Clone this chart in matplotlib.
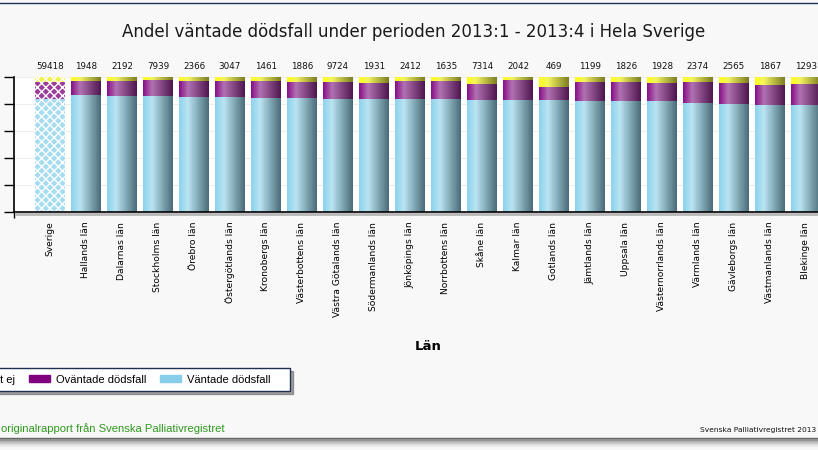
import matplotlib
matplotlib.use("Agg")
import matplotlib.pyplot as plt
from matplotlib.colors import to_rgb
from matplotlib.patches import Patch
import numpy as np

lan = ["Sverige", "Hallands län", "Dalarnas län", "Stockholms län", "Örebro län",
       "Östergötlands län", "Kronobergs län", "Västerbottens län", "Västra Götalands län",
       "Södermanlands län", "Jönköpings län", "Norrbottens län", "Skåne län", "Kalmar län",
       "Gotlands län", "Jämtlands län", "Uppsala län", "Västernorrlands län", "Värmlands län",
       "Gävleborgs län", "Västmanlands län", "Blekinge län"]
vantade = [83.5, 86.5, 86.2, 86.0, 85.0, 85.0, 84.5, 84.5, 83.7, 83.7, 83.5,
           83.7, 82.8, 83.0, 83.0, 82.3, 82.0, 82.0, 80.5, 79.8, 79.1, 79.1]
ovantade = [12.8, 10.6, 10.8, 11.8, 12.0, 12.0, 12.3, 11.8, 12.6, 11.9, 13.5,
            13.3, 12.0, 14.8, 9.6, 14.0, 14.3, 13.6, 15.8, 15.8, 15.0, 15.7]
vet_ej = [3.7, 2.9, 3.0, 2.2, 3.0, 3.0, 3.2, 3.7, 3.7, 4.4, 3.0,
          3.0, 5.2, 2.2, 7.4, 3.7, 3.7, 4.4, 3.7, 4.4, 5.9, 5.2]
antal = [59418, 1948, 2192, 7939, 2366, 3047, 1461, 1886, 9724, 1931, 2412,
         1635, 7314, 2042, 469, 1199, 1826, 1928, 2374, 2565, 1867, 1293]

BLUE = ("#8ed2ec", "#b9e4f2", "#4a6c78")
PURPLE = ("#880e88", "#b272b2", "#4e164e")
YELLOW = ("#ffff1a", "#f4f460", "#7c7c22")


def gradient(stops_c, n=64):
    t = np.linspace(0, 1, n)
    rgb = np.array([to_rgb(c) for c in stops_c])
    arr = np.stack([np.interp(t, [0, 0.3, 1], rgb[:, k]) for k in range(3)], axis=-1)
    return arr[None, :, :]


fig = plt.figure(figsize=(8.18, 4.5), dpi=100)
fig.patch.set_facecolor("#f8f8f8")

# plot area (cropped on both sides like the reference)
ax = fig.add_axes([14 / 818, 238 / 450, 828 / 818, 135 / 450])
ax.set_facecolor("white")

x = np.arange(len(lan))
w = 0.83
bottom2 = np.array(vantade) + np.array(ovantade)
b1 = ax.bar(x, vantade, w, color=BLUE[0], lw=0, zorder=2)
b2 = ax.bar(x, ovantade, w, bottom=vantade, color=PURPLE[0], lw=0, zorder=2)
b3 = ax.bar(x, vet_ej, w, bottom=bottom2, color=YELLOW[0], lw=0, zorder=2)

for cont, cols in ((b1, BLUE), (b2, PURPLE), (b3, YELLOW)):
    for i, p in enumerate(cont.patches):
        if i == 0:
            continue
        ax.imshow(gradient(cols), extent=[p.get_x(), p.get_x() + p.get_width(),
                                          p.get_y(), p.get_y() + p.get_height()],
                  aspect="auto", interpolation="bilinear", zorder=3)

# Sverige bar: lighter, with diamond pattern
plt.rcParams["hatch.linewidth"] = 1.2
for cont, col in ((b1, "#a6dcef"), (b2, "#9c3c9c"), (b3, "#f2f24a")):
    p = cont.patches[0]
    p.set_facecolor(col)
    p.set_edgecolor("white")
    p.set_hatch("xxxx")
    p.set_linewidth(0)

for i, n in enumerate(antal):
    ax.annotate(str(n), (x[i], 100), xytext=(0, 4), textcoords="offset points",
                ha="center", va="bottom", fontsize=6.3, color="#111111")

ax.set_xlim(-1, 22)
ax.set_ylim(0, 100)
ax.set_yticks(np.arange(0, 101, 20))
ax.set_yticklabels([])
ax.tick_params(axis="y", length=7, width=1, color="black")
ax.yaxis.grid(True, color="#eeeeee", lw=0.8, zorder=0)
ax.set_axisbelow(True)

ax.set_xticks(x)
ax.set_xticklabels(lan, rotation=90, fontsize=6.6, va="top")
ax.tick_params(axis="x", length=0, pad=7)
ax.set_xticks([-1, 4, 9, 14, 19], minor=True)
ax.tick_params(axis="x", which="minor", length=4, width=1, color="black")
for s in ("top", "right"):
    ax.spines[s].set_visible(False)
ax.spines["left"].set_linewidth(1.2)
ax.spines["bottom"].set_linewidth(1.2)
ax.spines["bottom"].set_zorder(5)

# shadow under x axis
fig.add_artist(plt.Line2D([16 / 818, 1], [1 - 214 / 450] * 2, color="#b8b8b8", lw=2))

fig.text(414 / 818, 1 - 32 / 450, "Andel väntade dödsfall under perioden 2013:1 - 2013:4 i Hela Sverige",
         ha="center", va="center", fontsize=12, color="#1a1a1a")
fig.text(428 / 818, 1 - 346 / 450, "Län", ha="center", va="center",
         fontsize=9.5, fontweight="bold")

handles = [Patch(color="#ffff00"), Patch(color="#800080"), Patch(color="#87ceeb")]
leg = fig.legend(handles, ["Vet ej", "Oväntade dödsfall", "Väntade dödsfall    "],
                 loc="upper right", bbox_to_anchor=(290 / 818, 1 - 368 / 450), ncol=3,
                 prop={"family": "Liberation Sans", "size": 8}, frameon=True,
                 fancybox=False, shadow=True, borderaxespad=0, borderpad=0.6,
                 handlelength=1.9, handleheight=0.65, handletextpad=0.54, columnspacing=1.26)
leg.get_frame().set_edgecolor("#1f2f4f")
leg.get_frame().set_linewidth(1)

fig.text(225 / 818, 1 - 429 / 450, "originalrapport från Svenska Palliativregistret",
         ha="right", va="center", fontsize=8.1, family="Liberation Sans", color="#2f9a1e")
fig.text(816 / 818, 1 - 430 / 450, "Svenska Palliativregistret 2013", ha="right", va="center",
         fontsize=5.4, color="#111111")

# frame lines
fig.add_artist(plt.Line2D([0, 1], [1 - 3 / 450] * 2, color="#1f2f4f", lw=1))
fig.add_artist(plt.Line2D([0, 1], [1 - 438 / 450] * 2, color="#666666", lw=1))
for k, g in enumerate(["#8a8a8a", "#a8a8a8", "#c4c4c4", "#dadada", "#ebebeb"]):
    fig.add_artist(plt.Line2D([0, 1], [1 - (440 + k * 1.6) / 450] * 2, color=g, lw=1.3))

fig.savefig("out.png", dpi=100, facecolor=fig.get_facecolor())
